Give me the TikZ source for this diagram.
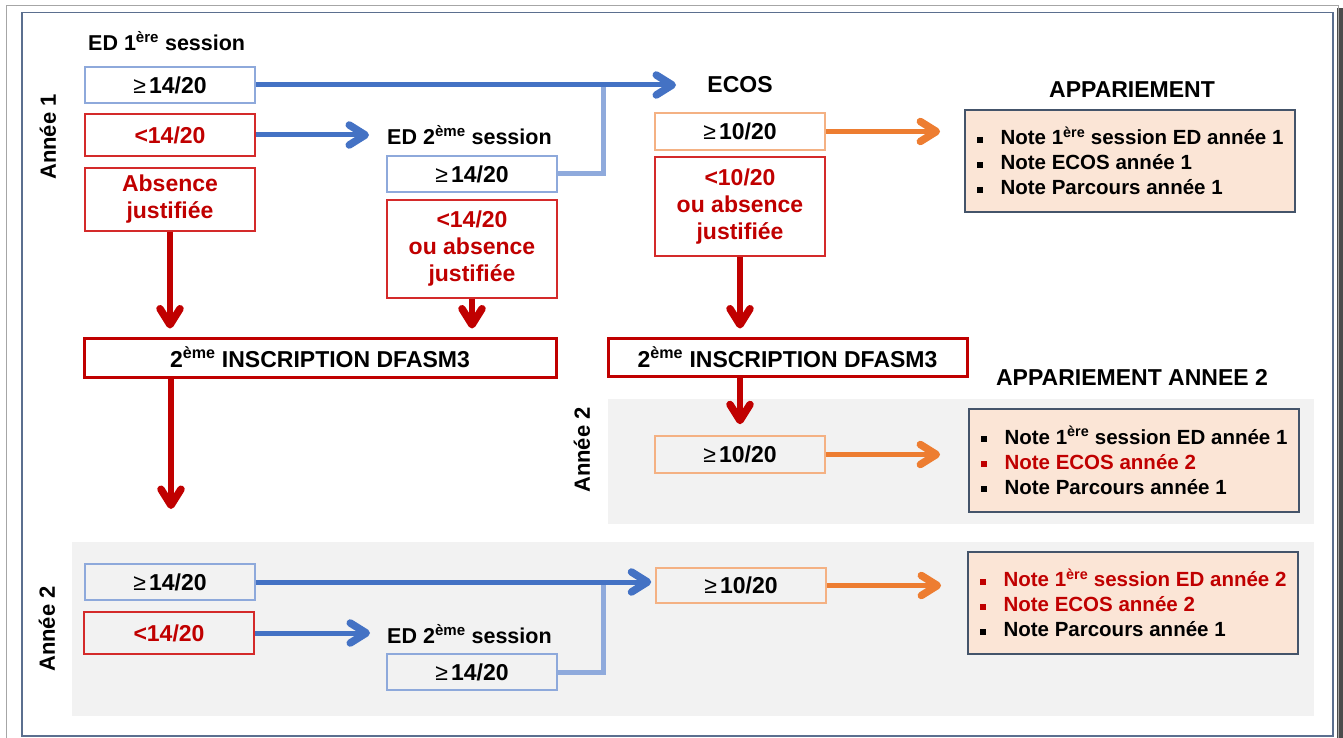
\documentclass[tikz,border=0pt]{standalone}
\usepackage{fontspec}
\setmainfont{Liberation Sans}
\usetikzlibrary{arrows.meta}
\definecolor{blueA}{HTML}{4472C4}
\definecolor{blueL}{HTML}{8FAADC}
\definecolor{blueBox}{HTML}{8EA9DB}
\definecolor{redT}{HTML}{C00000}
\definecolor{redB}{HTML}{D42A2A}
\definecolor{orA}{HTML}{ED7D31}
\definecolor{orB}{HTML}{F4B183}
\definecolor{panelG}{HTML}{F2F2F2}
\definecolor{appFill}{HTML}{FBE5D6}
\definecolor{appLine}{HTML}{44546A}
\definecolor{frameB}{HTML}{5B6F8F}
\newcommand{\gesym}{{\mdseries≥}\hspace{3pt}}
\newcommand{\bul}[1]{\textcolor{#1}{\rule[0.22ex]{6pt}{6pt}}\hspace{18pt}}
\tikzset{
  base/.style={inner sep=0pt, font=\bfseries\fontsize{23}{27}\selectfont},
  bx/.style={base, draw, line width=1.5pt, minimum width=170pt, align=center},
  bbox/.style={bx, draw=blueBox},
  rbox/.style={bx, draw=redB, text=redT},
  obox/.style={bx, draw=orB},
  ibox/.style={base, draw=redT, line width=3pt},
  abox/.style={draw=appLine, fill=appFill, line width=1.8pt, minimum width=330pt,
    inner sep=0pt, align=left, font=\bfseries\fontsize{20.5}{25}\selectfont},
  ttl/.style={base},
  yr/.style={base, font=\bfseries\fontsize{22}{26}\selectfont, rotate=90},
  tip/.style={-{Straight Barb[length=16pt,width=20pt,line width=7.5pt,line cap=round,line join=round]}},
  barrow/.style={tip, draw=blueA, line width=5pt},
  bjoin/.style={draw=blueL, line width=5pt},
  rarrow/.style={tip, draw=redT, line width=6pt},
  oarrow/.style={tip, draw=orA, line width=5pt},
  panel/.style={fill=panelG, draw=none},
}
\begin{document}
\begin{tikzpicture}[x=1pt,y=-1pt]
\useasboundingbox (0,0) rectangle (1343,738);
% frame
\fill[gray!60!black] (1337,8) rectangle (1343,738);
\draw[gray!70, line width=1pt] (6,6) rectangle (1338,745);
\draw[frameB, line width=1.5pt] (22,12.5) rectangle (1333,736);
% panels
\path[panel] (608,399) rectangle (1314,524);
\path[panel] (72,542) rectangle (1314,716);
% year labels
\node[yr] (y1) at (48,137) {Année 1};
\node[yr] (y2a) at (582,450) {Année 2};
\node[yr] (y2b) at (47,629) {Année 2};
% titles
\node[ttl, anchor=west, font=\bfseries\fontsize{21.5}{26}\selectfont] (ed1t) at (88,41) {ED 1\textsuperscript{ère} session};
\node[ttl, anchor=west, font=\bfseries\fontsize{21.5}{26}\selectfont] (ed2t) at (387,135) {ED 2\textsuperscript{ème} session};
\node[ttl, anchor=west, font=\bfseries\fontsize{21.5}{26}\selectfont] (ed2tb) at (387,634) {ED 2\textsuperscript{ème} session};
\node[ttl] (ecost) at (740,85) {ECOS};
\node[ttl] (appt) at (1132,90) {APPARIEMENT};
\node[ttl] (app2t) at (1132,377) {APPARIEMENT ANNEE 2};
% boxes year 1
\node[bbox, minimum height=36pt] (ed1ge) at (170,85) {\gesym 14/20};
\node[rbox, minimum height=42pt] (ed1lt) at (170,135) {<14/20};
\node[rbox, minimum height=63pt] (ed1abs) at (170,199.5) {Absence\\justifiée};
\node[bbox, minimum height=36pt] (ed2ge) at (472,174) {\gesym 14/20};
\node[rbox, minimum height=98pt] (ed2lt) at (472,249) {<14/20\\ou absence\\justifiée};
\node[obox, minimum height=37pt] (ecosge) at (740,131.5) {\gesym 10/20};
\node[rbox, minimum height=99pt] (ecoslt) at (740,206.5) {<10/20\\ou absence\\justifiée};
\node[ibox, minimum width=472pt, minimum height=39pt] (insc1) at (320,357.5) {2\textsuperscript{ème} INSCRIPTION DFASM3};
\node[ibox, minimum width=359pt, minimum height=38pt] (insc2) at (787.5,357) {2\textsuperscript{ème} INSCRIPTION DFASM3};
\node[abox, minimum height=102pt] (app1) at (1130,161) {\bul{black}Note 1\textsuperscript{ère} session ED année 1\\\bul{black}Note ECOS année 1\\\bul{black}Note Parcours année 1};
% year 2 (ECOS retake)
\node[obox, minimum height=37pt] (ecos2ge) at (740,454.5) {\gesym 10/20};
\node[abox, minimum height=103pt] (app2) at (1134,460.5) {\bul{black}Note 1\textsuperscript{ère} session ED année 1\\\bul{redT}\textcolor{redT}{Note ECOS année 2}\\\bul{black}Note Parcours année 1};
% year 2 (full)
\node[bbox, minimum height=36pt] (bge) at (170,582) {\gesym 14/20};
\node[rbox, minimum height=42pt] (blt) at (169,633) {<14/20};
\node[bbox, minimum height=36pt] (bed2ge) at (472,672) {\gesym 14/20};
\node[obox, minimum height=35pt] (becos) at (741,585.5) {\gesym 10/20};
\node[abox, minimum height=102pt] (app3) at (1133,603) {\bul{redT}\textcolor{redT}{Note 1\textsuperscript{ère} session ED année 2}\\\bul{redT}\textcolor{redT}{Note ECOS année 2}\\\bul{black}Note Parcours année 1};
% coordinates
\coordinate (ecosin) at (676,85);
\coordinate (ed2in) at (369,135);
\coordinate (j1) at (603,85);
\coordinate (down1) at (171,509);
\coordinate (ed2inb) at (370,633);
\coordinate (j2) at (603,582);
% connectors
\draw[bjoin] (ed2ge.east) -| (j1);
\draw[barrow] (ed1ge.east) -- (ecosin);
\draw[barrow] (ed1lt.east) -- (ed2in);
\draw[rarrow, shorten >=8pt] (ed1abs.south) -- (ed1abs.south |- insc1.north);
\draw[rarrow, shorten >=8pt] (ed2lt.south) -- (ed2lt.south |- insc1.north);
\draw[rarrow, shorten >=8pt] (ecoslt.south) -- (ecoslt.south |- insc2.north);
\draw[rarrow] (insc1.south -| down1) -- (down1);
\draw[rarrow, shorten >=11pt] (ecos2ge.north |- insc2.south) -- (ecos2ge.north);
\draw[oarrow, shorten >=24pt] (ecosge.east) -- (ecosge.east -| app1.west);
\draw[oarrow, shorten >=28pt] (ecos2ge.east) -- (ecos2ge.east -| app2.west);
\draw[oarrow, shorten >=26pt] (becos.east) -- (becos.east -| app3.west);
\draw[bjoin] (bed2ge.east) -| (j2);
\draw[barrow, shorten >=4pt] (bge.east) -- (bge.east -| becos.west);
\draw[barrow] (blt.east) -- (ed2inb);
\end{tikzpicture}
\end{document}
